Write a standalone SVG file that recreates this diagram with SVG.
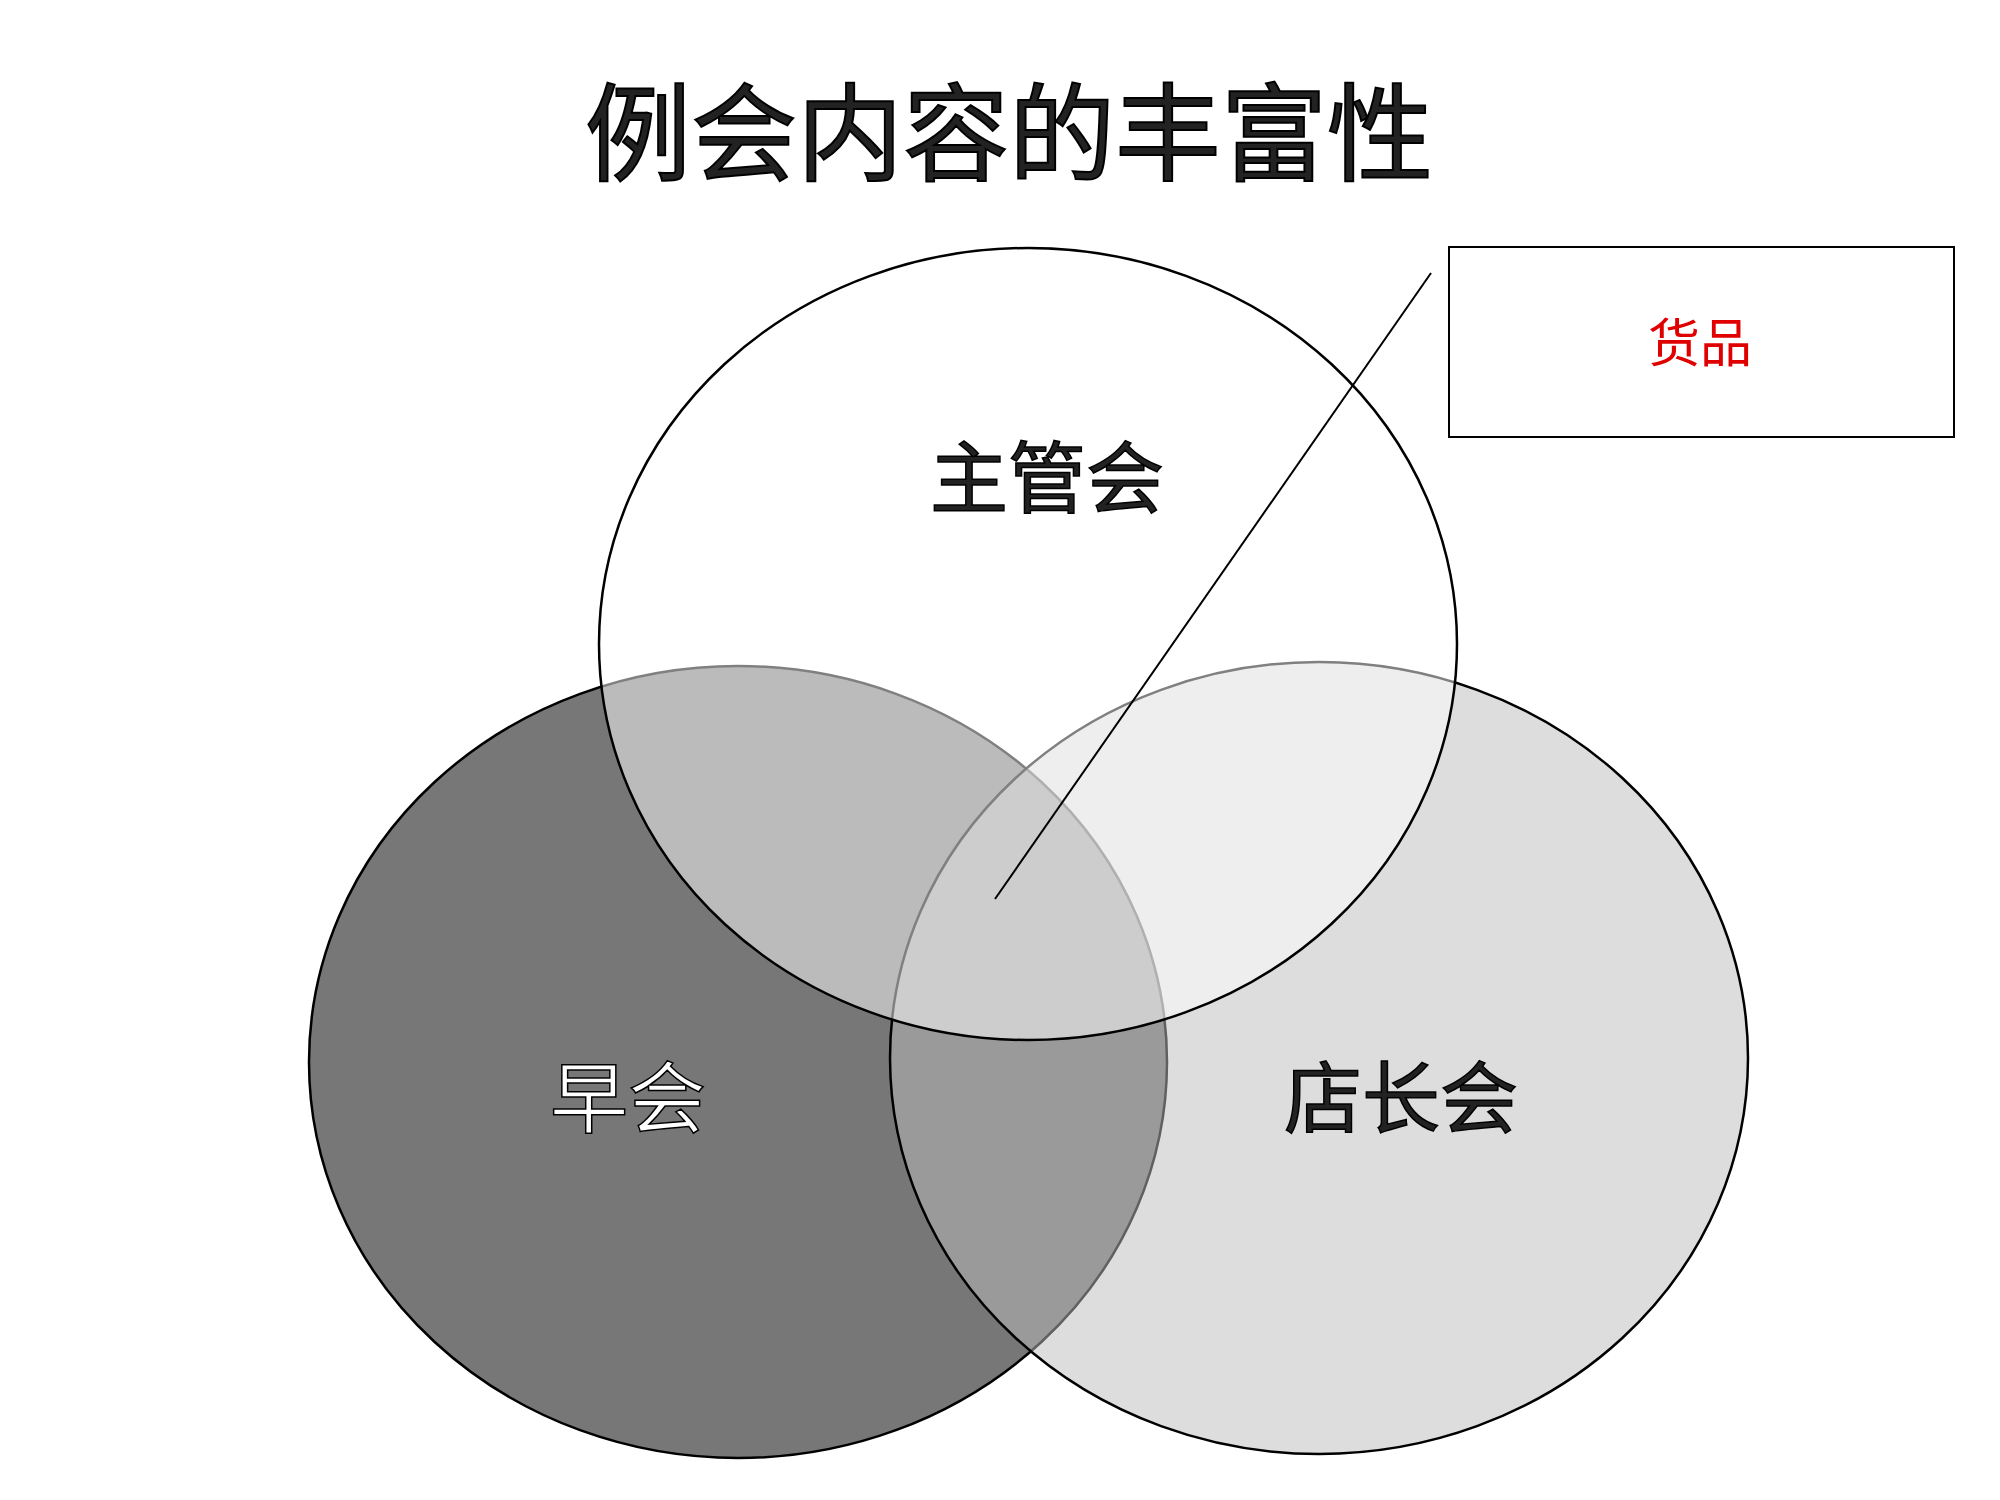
<svg xmlns="http://www.w3.org/2000/svg" width="2000" height="1500" viewBox="0 0 2000 1500">
<style>
.c{stroke:#000;stroke-width:2.5}
.t{font-family:"Noto Sans CJK SC","Noto Sans CJK TC",sans-serif;text-anchor:middle}
.lbl{font-size:78px;stroke:#000;stroke-width:1.5}
</style>
<rect width="2000" height="1500" fill="#fff"/>
<text class="t" x="1009" y="172" font-size="106" fill="#222" stroke="#000" stroke-width="2">例会内容的丰富性</text>
<g id="left"><ellipse class="c" cx="738" cy="1062" rx="429" ry="396" fill="#777"/></g>
<g id="right"><ellipse class="c" cx="1319" cy="1058" rx="429" ry="396" fill="#bcbcbc" fill-opacity="0.51"/></g>
<g id="top"><ellipse class="c" cx="1028" cy="644" rx="429" ry="396" fill="#fff" fill-opacity="0.5"/></g>
<g id="labels">
<text class="t lbl" x="1047" y="507" fill="#222">主管会</text>
<text class="t lbl" x="628" y="1127" fill="#fff" stroke="#444" stroke-width="1">早会</text>
<text class="t lbl" x="1401" y="1127" fill="#222">店长会</text>
</g>
<g id="connectors"><line x1="1431" y1="273" x2="995" y2="899" stroke="#000" stroke-width="2"/></g>
<g id="callout">
<rect x="1449" y="247" width="505" height="190" fill="#fff" stroke="#000" stroke-width="2"/>
<text class="t" x="1700" y="362" font-size="52" fill="#e00000">货品</text>
</g>
</svg>
